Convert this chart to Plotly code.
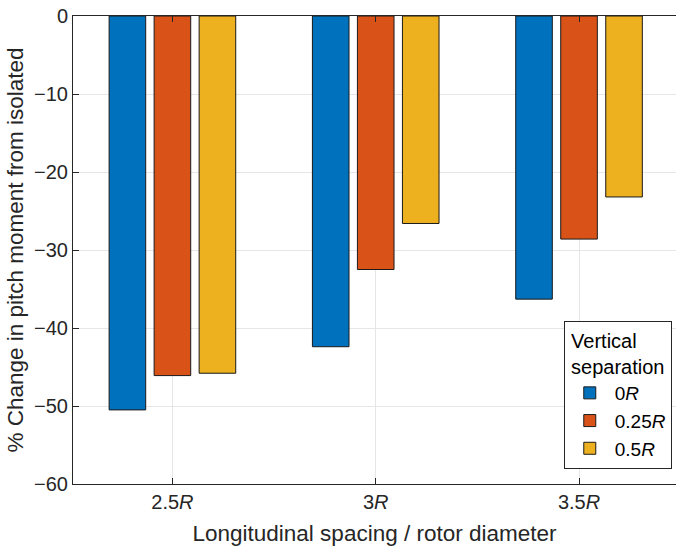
import plotly.graph_objects as go

categories = ["2.5<i>R</i>", "3<i>R</i>", "3.5<i>R</i>"]
series_names = ["0<i>R</i>", "0.25<i>R</i>", "0.5<i>R</i>"]
vals_0R = [-50.5, -42.4, -36.3]
vals_025R = [-46.1, -32.5, -28.6]
vals_05R = [-45.8, -26.6, -23.2]
y_ticks = [0, -10, -20, -30, -40, -50, -60]

colors = ["#0072BD", "#D95319", "#EDB120"]
offsets = [-0.2214, 0.0, 0.2214]
xpos = [1, 2, 3]

fig = go.Figure()
for name, vals, col, off in zip(series_names, [vals_0R, vals_025R, vals_05R], colors, offsets):
    fig.add_trace(go.Bar(
        x=[p + off for p in xpos], y=vals, width=0.18, name=name,
        marker=dict(color=col, line=dict(color="#1a1a1a", width=1)),
    ))

axis_col = "#262626"
fig.update_layout(
    width=676, height=546,
    margin=dict(l=73, r=0, t=16, b=62),
    paper_bgcolor="white", plot_bgcolor="white",
    font=dict(family="Liberation Sans, Arial, Helvetica, sans-serif", size=20, color=axis_col),
    barmode="overlay",
    showlegend=True,
    legend=dict(
        title=dict(text="Vertical<br>separation", side="top center", font=dict(size=20, color="#000000")),
        x=0.993, y=0.032, xanchor="right", yanchor="bottom",
        bgcolor="white", bordercolor="#262626", borderwidth=1,
        font=dict(size=19, color="#000000"),
        tracegroupgap=0, itemwidth=40,
    ),
    xaxis=dict(
        range=[0.511, 3.477], tickvals=xpos, ticktext=categories,
        showgrid=True, gridcolor="#e6e6e6", gridwidth=1,
        ticks="inside", ticklen=6, tickcolor=axis_col,
        showline=True, linecolor=axis_col, linewidth=1, mirror="ticks",
        zeroline=False,
        title=dict(text="Longitudinal spacing / rotor diameter", font=dict(size=22.5), standoff=14),
        tickfont=dict(size=20),
    ),
    yaxis=dict(
        range=[-60, 0], tickvals=y_ticks,
        showgrid=True, gridcolor="#e6e6e6", gridwidth=1,
        ticks="inside", ticklen=6, tickcolor=axis_col,
        showline=True, linecolor=axis_col, linewidth=1,
        zeroline=False,
        title=dict(text="% Change in pitch moment from isolated", font=dict(size=22.5), standoff=4),
        tickfont=dict(size=20),
    ),
)

fig.write_html("out.html")
